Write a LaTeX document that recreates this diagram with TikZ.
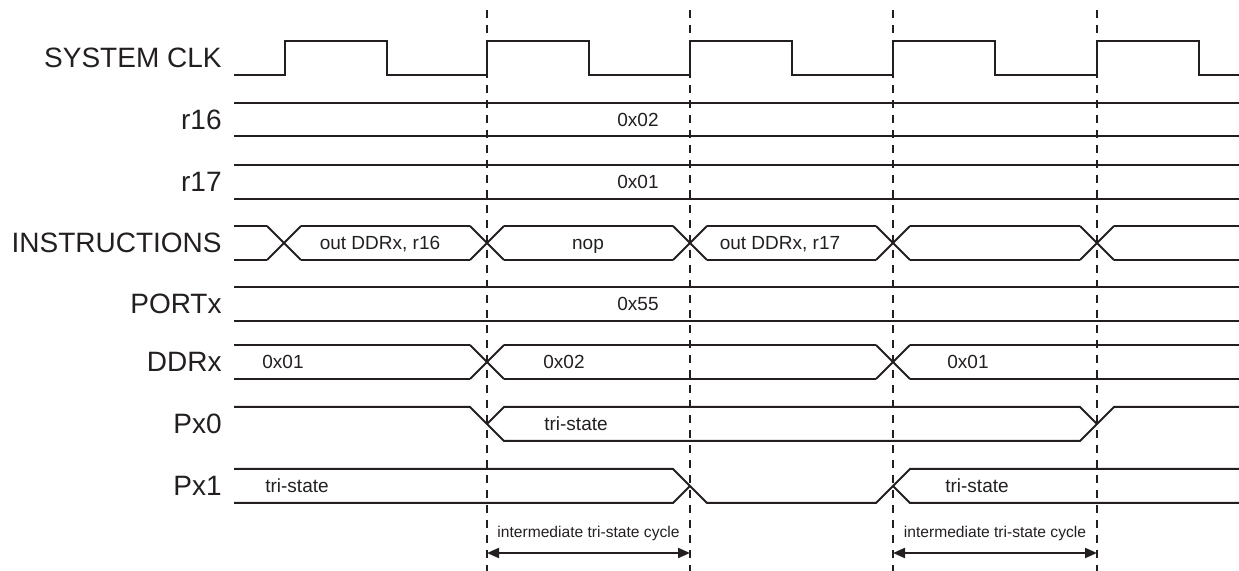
\documentclass[tikz,border=0pt]{standalone}
\usepackage{fontspec}
\setmainfont{Liberation Sans}
\usetikzlibrary{arrows.meta,positioning,calc}
\definecolor{inkc}{HTML}{231F20}
\tikzset{
  wave/.style={draw=inkc,line width=1pt,line join=miter},
  clkedge/.style={draw=inkc,line width=1pt,dash pattern=on 4pt off 3.5pt},
  sig/.style={font=\fontsize{14}{16}\selectfont,text=inkc,anchor=east,inner sep=0pt,text height=10pt,text depth=0pt},
  val/.style={font=\fontsize{9.5}{11}\selectfont,text=inkc,inner sep=0pt,text height=6.8pt,text depth=0pt},
  cyc/.style={font=\fontsize{7.8}{9}\selectfont,text=inkc,inner sep=0pt,text height=5.6pt,text depth=0pt},
  span/.style={{Triangle[length=6pt,width=5pt]}-{Triangle[length=6pt,width=5pt]},draw=inkc,line width=1pt},
}
% crossing of a bus: x, top, bottom
\newcommand{\xing}[3]{\draw[wave] (#1-17,#2) -- (#1+17,#3) (#1-17,#3) -- (#1+17,#2);}
% two flat lines of a bus: from, to, top, bottom
\newcommand{\busline}[4]{\draw[wave] (#1,#3) -- (#2,#3) (#1,#4) -- (#2,#4);}

\begin{document}
\begin{tikzpicture}[x=0.5pt,y=-0.5pt]
  \useasboundingbox (0,0) rectangle (1239,571);
  % clock edges
  \coordinate (e1) at (487,10);  \coordinate (f1) at (487,571);
  \coordinate (e2) at (690,10);  \coordinate (f2) at (690,571);
  \coordinate (e3) at (893,10);  \coordinate (f3) at (893,571);
  \coordinate (e4) at (1097,10); \coordinate (f4) at (1097,571);
  \draw[clkedge] (e1) -- (f1) (e2) -- (f2) (e3) -- (f3) (e4) -- (f4);
  % signal names
  \node[sig] (lclk) at (222,58) {SYSTEM CLK};
  \node[sig] (l16) at (222,120) {r16};
  \node[sig] (l17) at (222,182) {r17};
  \node[sig] (lins) at (222,243) {INSTRUCTIONS};
  \node[sig] (lport) at (222,304) {PORTx};
  \node[sig] (lddr) at (222,362) {DDRx};
  \node[sig] (lpx0) at (222,424) {Px0};
  \node[sig] (lpx1) at (222,486) {Px1};
  % SYSTEM CLK
  \draw[wave] (234,75) \foreach \r in {285,487,690,893,1097}{ -| (\r,41) -| (\r+101.5,75) } -- (1239,75);
  % r16, r17
  \busline{234}{1239}{103}{136}
  \node[val] (v16) at (638,120) {0x02};
  \busline{234}{1239}{165}{199}
  \node[val] (v17) at (638,182) {0x01};
  % INSTRUCTIONS
  \busline{234}{267}{226}{260}\xing{284}{226}{260}
  \busline{301}{470}{226}{260}\xing{487}{226}{260}
  \busline{504}{673}{226}{260}\xing{690}{226}{260}
  \busline{707}{876}{226}{260}\xing{893}{226}{260}
  \busline{910}{1080}{226}{260}\xing{1097}{226}{260}
  \busline{1114}{1239}{226}{260}
  \node[val] (i1) at (380,243) {out DDRx, r16};
  \node[val] (i2) at (588,243) {nop};
  \node[val] (i3) at (780,243) {out DDRx, r17};
  % PORTx
  \busline{234}{1239}{287}{321}
  \node[val] (vport) at (638,304) {0x55};
  % DDRx
  \busline{234}{470}{345}{379}\xing{487}{345}{379}
  \busline{504}{876}{345}{379}\xing{893}{345}{379}
  \busline{910}{1239}{345}{379}
  \node[val] (d1) at (283,362) {0x01};
  \node[val] (d2) at (564,362) {0x02};
  \node[val] (d3) at (968,362) {0x01};
  % Px0
  \draw[wave] (234,407) -- (470,407) -- (487,424) -- (504,441) -- (1080,441) -- (1097,424) -- (1114,407) -- (1239,407);
  \draw[wave] (487,424) -- (504,407) -- (1080,407) -- (1097,424);
  \node[val] (p0) at (576,424) {tri-state};
  % Px1
  \draw[wave] (234,469) -- (673,469) -- (690,486) -- (707,503) -- (876,503) -- (893,486) -- (910,469) -- (1239,469);
  \draw[wave] (234,503) -- (673,503) -- (690,486);
  \draw[wave] (893,486) -- (910,503) -- (1239,503);
  \node[val] (p1a) at (297,486) {tri-state};
  \node[val] (p1b) at (977,486) {tri-state};
  % tri-state cycles
  \coordinate (a1) at (487,553); \coordinate (b1) at (690,553);
  \coordinate (a2) at (893,553); \coordinate (b2) at (1097,553);
  \draw[span] (a1) -- (b1);
  \draw[span] (a2) -- (b2);
  \node[cyc] (c1) at (588.5,532) {intermediate tri-state cycle};
  \node[cyc] (c2) at (995,532) {intermediate tri-state cycle};
\end{tikzpicture}
\end{document}
